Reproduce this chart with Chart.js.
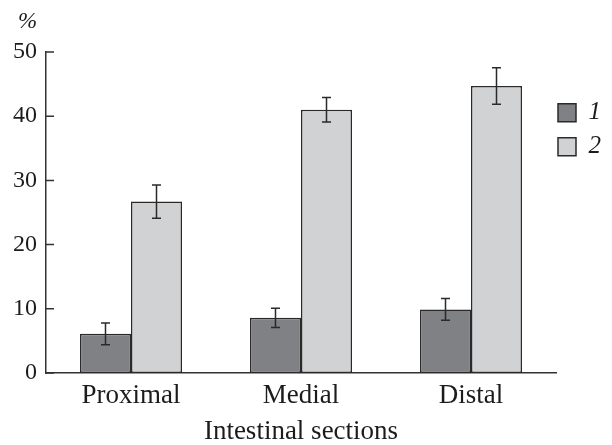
<!DOCTYPE html>
<html>
<head>
<meta charset="utf-8">
<script src="https://cdn.jsdelivr.net/npm/chart.js@4.4.1/dist/chart.umd.min.js"></script>
<style>
  html, body { margin: 0; padding: 0; background: #fff; }
</style>
</head>
<body>
<canvas id="chart" width="612" height="445"></canvas>
<script>
// values
const categories = ['Proximal', 'Medial', 'Distal'];
const seriesNames = ['1', '2'];
const group1 = [6.1, 8.6, 9.9];
const group1Err = [1.7, 1.5, 1.7];
const group2 = [26.7, 41.0, 44.7];
const group2Err = [2.6, 1.9, 2.85];
const yTicks = [0, 10, 20, 30, 40, 50];
const unitLabel = '%';

const serif = '"Liberation Serif", "DejaVu Serif", "Times New Roman", serif';
const ink = '#1c1c1c';
const errors = [group1Err, group2Err];

// error bars, placed with the bar elements and the y scale
const errorBars = {
   id: 'errorBars',
   afterDatasetsDraw(chart){
      const ctx = chart.ctx;
      const yScale = chart.scales.y;
      chart.data.datasets.forEach((ds, i) => {
         const meta = chart.getDatasetMeta(i);
         meta.data.forEach((bar, j) => {
            const v = ds.data[j];
            const e = errors[i][j];
            const top = yScale.getPixelForValue(v + e);
            const bot = yScale.getPixelForValue(v - e);
            ctx.save();
            ctx.strokeStyle = '#2a2a2a';
            ctx.lineWidth = 1.5;
            ctx.beginPath();
            ctx.moveTo(bar.x, top); ctx.lineTo(bar.x, bot);
            ctx.moveTo(bar.x - 4.5, top); ctx.lineTo(bar.x + 4.5, top);
            ctx.moveTo(bar.x - 4.5, bot); ctx.lineTo(bar.x + 4.5, bot);
            ctx.stroke();
            ctx.restore();
         });
      });
   }
};

// y ticks point inward, plus the "%" unit above the axis
const axisExtras = {
   id: 'axisExtras',
   afterDraw(chart){
      const ctx = chart.ctx;
      const yScale = chart.scales.y;
      const left = chart.chartArea.left;
      ctx.save();
      ctx.strokeStyle = '#333';
      ctx.lineWidth = 1.5;
      ctx.beginPath();
      yScale.ticks.forEach((t, i) => {
         const y = yScale.getPixelForTick(i);
         ctx.moveTo(left, y);
         ctx.lineTo(left + 8, y);
      });
      ctx.stroke();

      ctx.fillStyle = ink;
      ctx.font = 'italic 23px ' + serif;
      ctx.textAlign = 'left';
      ctx.textBaseline = 'middle';
      ctx.fillText(unitLabel, 18, 22);
      ctx.restore();
   }
};

const chartE = document.getElementById('chart').getContext('2d');
const chart = new Chart(chartE, {
   type: 'bar',
   data: {
      labels: categories,
      datasets: [
         {
            label: seriesNames[0],
            data: group1,
            backgroundColor: '#808184',
            borderColor: '#2a2a2a',
            borderWidth: 1.5,
            borderSkipped: false,
            categoryPercentage: 0.6,
            barPercentage: 1.0
         },
         {
            label: seriesNames[1],
            data: group2,
            backgroundColor: '#d1d2d4',
            borderColor: '#2a2a2a',
            borderWidth: 1.5,
            borderSkipped: false,
            categoryPercentage: 0.6,
            barPercentage: 1.0
         }
      ]
   },
   options: {
      responsive: false,
      animation: false,
      devicePixelRatio: 1,
      layout: {
         padding: { left: 4, right: 1, top: 52, bottom: 0 }
      },
      plugins: {
         legend: {
            position: 'right',
            align: 'start',
            title: {
               display: true,
               text: ' ',
               font: { size: 1 },
               padding: { top: 45, bottom: 0 }
            },
            labels: {
               boxWidth: 18,
               boxHeight: 18,
               padding: 2,
               color: ink,
               font: { family: serif, size: 25, style: 'italic', lineHeight: 1.28 },
               // array text makes the item as tall as the line height
               generateLabels: c => Chart.defaults.plugins.legend.labels.generateLabels(c)
                  .map(l => Object.assign(l, { text: [l.text] }))
            }
         },
         tooltip: { enabled: false }
      },
      scales: {
         x: {
            grid: { display: false, drawTicks: false },
            border: { display: true, color: '#333', width: 1.5 },
            ticks: { color: ink, font: { family: serif, size: 27, lineHeight: 1.0 }, padding: 9 },
            title: {
               display: true,
               text: 'Intestinal sections',
               color: ink,
               font: { family: serif, size: 27, lineHeight: 1.0 },
               padding: { top: 0, bottom: 0 }
            }
         },
         y: {
            min: 0,
            max: 50,
            grid: { display: false, drawTicks: false },
            border: { display: true, color: '#333', width: 1.5 },
            afterBuildTicks: axis => { axis.ticks = yTicks.map(v => ({ value: v })); },
            ticks: { color: ink, font: { family: serif, size: 24 }, padding: 9 }
         }
      }
   },
   plugins: [errorBars, axisExtras]
});
</script>
</body>
</html>
